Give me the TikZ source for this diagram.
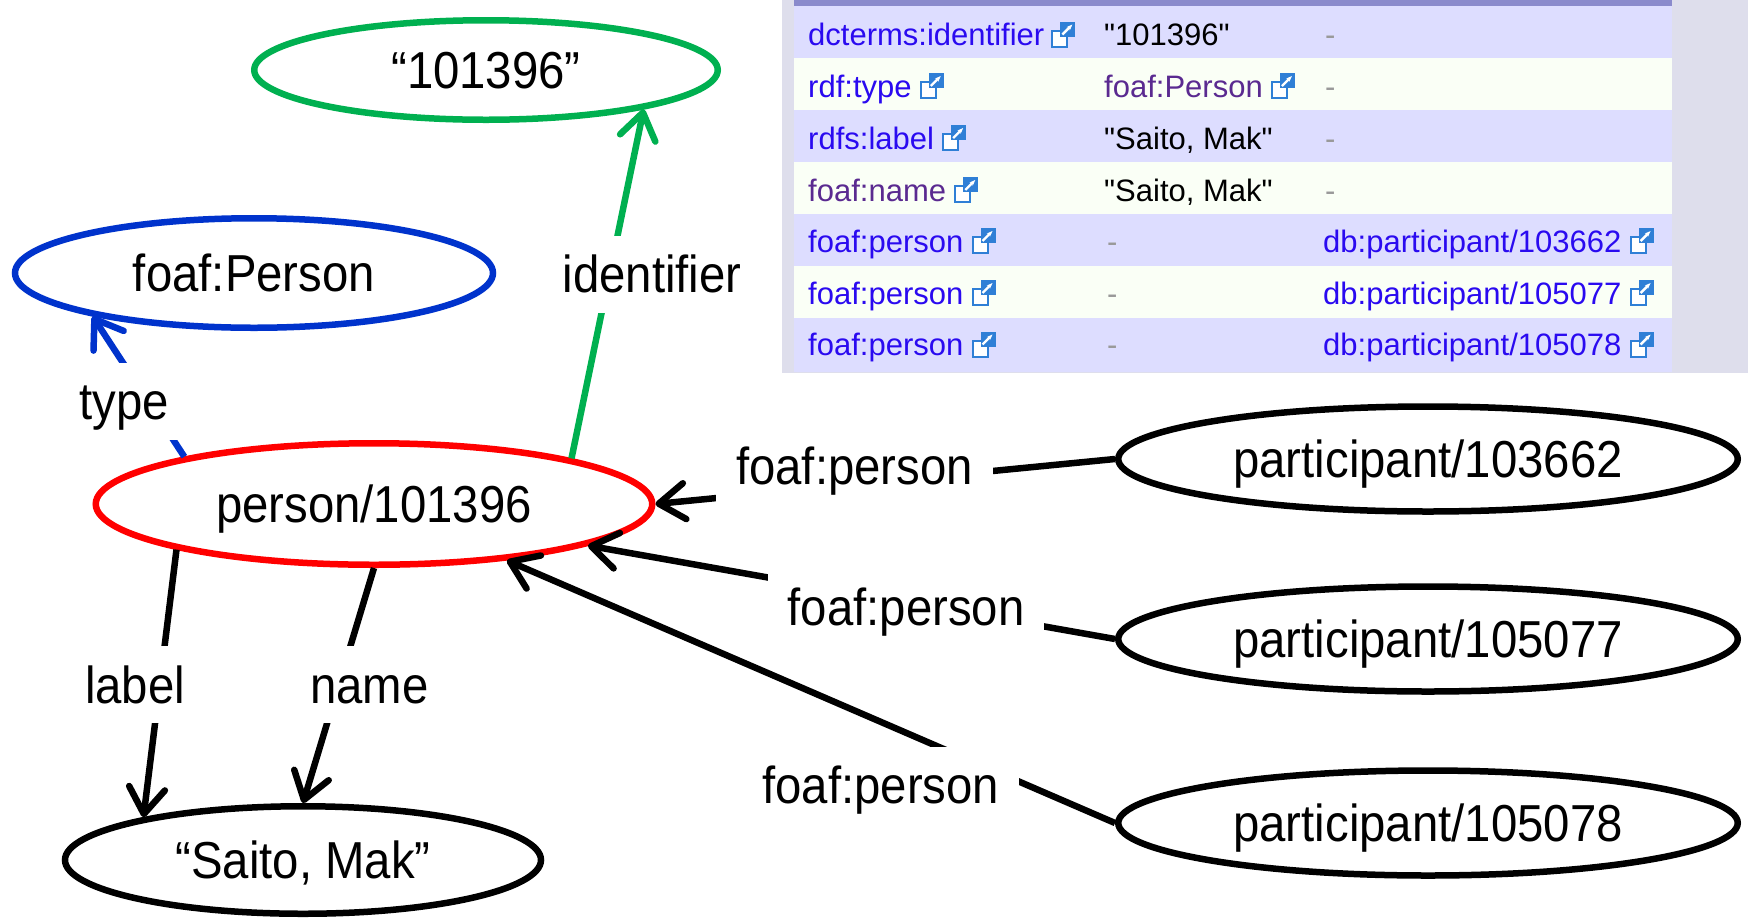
\documentclass[tikz,border=0pt]{standalone}
\usepackage{fontspec}
\setmainfont{Liberation Sans}[Ligatures=TeXOff]
\newfontfamily\lblfont{Liberation Sans}[FakeStretch=0.91]
\usetikzlibrary{arrows.meta,shapes.geometric}
\definecolor{rdfgreen}{HTML}{00B050}
\definecolor{rdfblue}{HTML}{0033CC}
\definecolor{rdfred}{HTML}{FF0000}
\definecolor{tabhead}{HTML}{8A8ACC}
\definecolor{tablav}{HTML}{DDDDFF}
\definecolor{tabwhite}{HTML}{FAFFF6}
\definecolor{tabframe}{HTML}{DEDEEC}
\definecolor{linkblue}{HTML}{2A0AF0}
\definecolor{visited}{HTML}{5A2A90}
\definecolor{dashgrey}{HTML}{999999}
\definecolor{iconblue}{HTML}{2F7FD6}
\tikzset{
  ell/.style={ellipse, draw, line width=6.5pt, inner sep=0pt,
    font=\lblfont\fontsize{52}{60}\selectfont, text height=37pt, text depth=0pt},
  conn/.style={line width=6.5pt, -{Straight Barb[length=26pt,width=36pt,round]}},
  lbl/.style={fill=white, inner xsep=20pt, inner ysep=20pt,
    font=\lblfont\fontsize{52}{60}\selectfont, text height=37pt, text depth=0pt},
  tcell/.style={anchor=west, inner sep=0pt, font=\fontsize{31}{36}\selectfont,
    text height=22pt, text depth=0pt},
  lnk/.style={tcell, text=linkblue},
  vis/.style={tcell, text=visited},
  dsh/.style={tcell, text=dashgrey},
  exticon/.pic={
    \draw[iconblue, line width=2pt, fill=white] (1,-4) rectangle (16,12);
    \fill[iconblue] (9,-13) rectangle (24,2);
    \draw[white, line width=2.4pt, -{Stealth[length=6pt]}] (11,0) -- (21,-10);
  }
}
\begin{document}
\begin{tikzpicture}[x=1pt,y=-1pt]
\useasboundingbox (0,0) rectangle (1748,919);
% ---------- table ----------
\fill[tabframe] (782,0) rectangle (1748,373);
\fill[tabhead] (794,0) rectangle (1672,6);
\fill[tablav]   (794,6)   rectangle (1672,58);
\fill[tabwhite] (794,58)  rectangle (1672,110);
\fill[tablav]   (794,110) rectangle (1672,162);
\fill[tabwhite] (794,162) rectangle (1672,214);
\fill[tablav]   (794,214) rectangle (1672,266);
\fill[tabwhite] (794,266) rectangle (1672,318);
\fill[tablav]   (794,318) rectangle (1672,372);
% row 1
\node[lnk] (r1a) at (808,34.5) {dcterms:identifier};
\pic at ([xshift=7pt]r1a.east) {exticon};
\node[tcell] (r1b) at (1104,34.5) {"101396"};
\node[dsh] (r1c) at (1325,34.5) {-};
% row 2
\node[lnk] (r2a) at (808,86) {rdf:type};
\pic at ([xshift=8pt]r2a.east) {exticon};
\node[vis] (r2b) at (1104,86) {foaf:Person};
\pic at ([xshift=8pt]r2b.east) {exticon};
\node[dsh] (r2c) at (1325,86) {-};
% row 3
\node[lnk] (r3a) at (808,138) {rdfs:label};
\pic at ([xshift=8pt]r3a.east) {exticon};
\node[tcell] (r3b) at (1104,138) {"Saito, Mak"};
\node[dsh] (r3c) at (1325,138) {-};
% row 4
\node[vis] (r4a) at (808,190) {foaf:name};
\pic at ([xshift=8pt]r4a.east) {exticon};
\node[tcell] (r4b) at (1104,190) {"Saito, Mak"};
\node[dsh] (r4c) at (1325,190) {-};
% row 5
\node[lnk] (r5a) at (808,241) {foaf:person};
\pic at ([xshift=8pt]r5a.east) {exticon};
\node[dsh] (r5b) at (1107,241) {-};
\node[lnk] (r5c) at (1323,241) {db:participant/103662};
\pic at ([xshift=8pt]r5c.east) {exticon};
% row 6
\node[lnk] (r6a) at (808,293) {foaf:person};
\pic at ([xshift=8pt]r6a.east) {exticon};
\node[dsh] (r6b) at (1107,293) {-};
\node[lnk] (r6c) at (1323,293) {db:participant/105077};
\pic at ([xshift=8pt]r6c.east) {exticon};
% row 7
\node[lnk] (r7a) at (808,344.5) {foaf:person};
\pic at ([xshift=8pt]r7a.east) {exticon};
\node[dsh] (r7b) at (1107,344.5) {-};
\node[lnk] (r7c) at (1323,344.5) {db:participant/105078};
\pic at ([xshift=8pt]r7c.east) {exticon};
% ---------- graph ----------
\node[ell, draw=rdfgreen, minimum width=463.5pt, minimum height=99.5pt] (green) at (486,70) {“101396”};
\node[ell, draw=rdfblue, minimum width=478pt, minimum height=109.5pt] (blue) at (254,273) {foaf:Person};
\node[ell, draw=rdfred, minimum width=556.5pt, minimum height=121.5pt] (red) at (374,504) {person/101396};
\node[ell, minimum width=476pt, minimum height=107.5pt] (saito) at (303,860) {“Saito, Mak”};
\node[ell, minimum width=619.5pt, minimum height=105pt] (p1) at (1428,459) {participant/103662};
\node[ell, minimum width=619.5pt, minimum height=105pt] (p2) at (1428,639) {participant/105077};
\node[ell, minimum width=619.5pt, minimum height=105pt] (p3) at (1428,823) {participant/105078};
% connectors
\draw[conn, rdfgreen] (red.13.4) -- (green.-14.7);
\draw[conn, rdfblue] (red.166.7) -- (blue.-165.7);
\draw[conn] (p1.west) -- (red.east);
\draw[conn] (p2.west) -- (red.-11.9);
\draw[conn] (p3.west) -- (red.-23.9);
\draw[conn] (red.-167) -- (saito.165.7);
\draw[conn] (red.south) -- (saito.north);
% labels
\node[lbl] (lid) at (652,274) {identifier};
\node[lbl] (ltype) at (124,401) {type};
\node[lbl] (lp1) at (854.5,466) {foaf:person};
\node[lbl] (lp2) at (906,606.5) {foaf:person};
\node[lbl] (lp3) at (880.7,785) {foaf:person};
\node[lbl] (llabel) at (135,684.5) {label};
\node[lbl] (lname) at (369.5,684.5) {name};
\end{tikzpicture}
\end{document}
